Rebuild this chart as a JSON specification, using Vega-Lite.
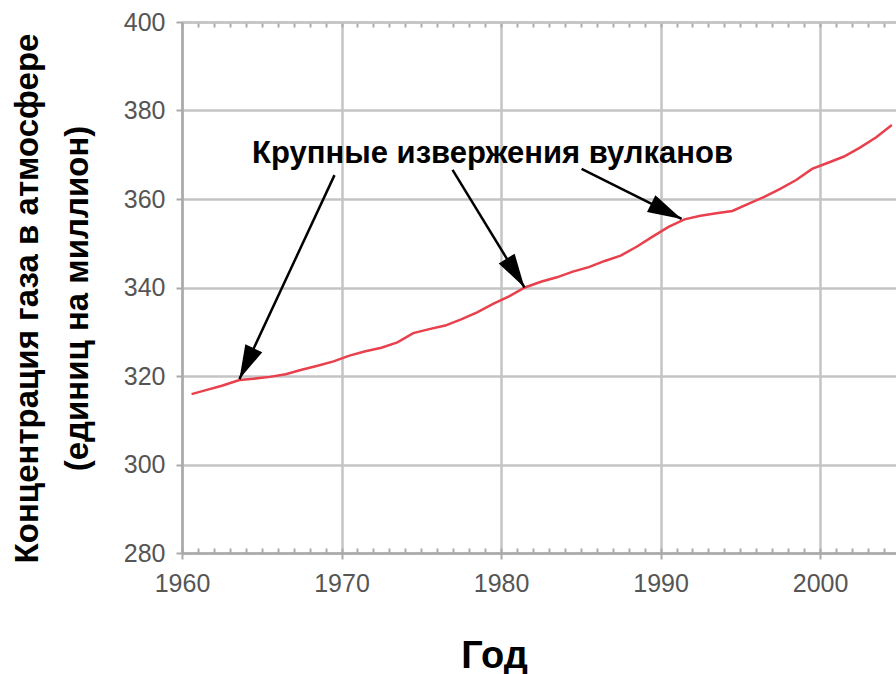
{
  "$schema": "https://vega.github.io/schema/vega-lite/v6.json",
  "width": 714,
  "height": 531,
  "autosize": {"type": "none"},
  "padding": {"left": 182, "top": 22, "right": 0, "bottom": 121},
  "background": "white",
  "config": {"view": {"stroke": null}},
  "datasets": {
    "co2": [
      {"year": 1960.6, "ppm": 315.9},
      {"year": 1961.5, "ppm": 316.8},
      {"year": 1962.5, "ppm": 317.8},
      {"year": 1963.6, "ppm": 319.1},
      {"year": 1964.5, "ppm": 319.4},
      {"year": 1965.5, "ppm": 319.8},
      {"year": 1966.5, "ppm": 320.4},
      {"year": 1967.5, "ppm": 321.4},
      {"year": 1968.5, "ppm": 322.3},
      {"year": 1969.5, "ppm": 323.3},
      {"year": 1970.5, "ppm": 324.6},
      {"year": 1971.5, "ppm": 325.6},
      {"year": 1972.5, "ppm": 326.4},
      {"year": 1973.5, "ppm": 327.6},
      {"year": 1974.5, "ppm": 329.7},
      {"year": 1975.5, "ppm": 330.6},
      {"year": 1976.5, "ppm": 331.4},
      {"year": 1977.5, "ppm": 332.8},
      {"year": 1978.5, "ppm": 334.4},
      {"year": 1979.5, "ppm": 336.3},
      {"year": 1980.5, "ppm": 338.0},
      {"year": 1981.5, "ppm": 340.0},
      {"year": 1982.5, "ppm": 341.3},
      {"year": 1983.5, "ppm": 342.3},
      {"year": 1984.5, "ppm": 343.6},
      {"year": 1985.5, "ppm": 344.6},
      {"year": 1986.5, "ppm": 346.0},
      {"year": 1987.5, "ppm": 347.2},
      {"year": 1988.5, "ppm": 349.2},
      {"year": 1989.5, "ppm": 351.5},
      {"year": 1990.5, "ppm": 353.7},
      {"year": 1991.5, "ppm": 355.4},
      {"year": 1992.5, "ppm": 356.2},
      {"year": 1993.5, "ppm": 356.8},
      {"year": 1994.5, "ppm": 357.3},
      {"year": 1995.5, "ppm": 358.9},
      {"year": 1996.5, "ppm": 360.5},
      {"year": 1997.5, "ppm": 362.3},
      {"year": 1998.5, "ppm": 364.3},
      {"year": 1999.5, "ppm": 366.8},
      {"year": 2000.5, "ppm": 368.2},
      {"year": 2001.5, "ppm": 369.6},
      {"year": 2002.5, "ppm": 371.6},
      {"year": 2003.5, "ppm": 373.9},
      {"year": 2004.5, "ppm": 376.7}
    ],
    "arrows": [
      {"id": "a", "year0": 1969.56, "ppm0": 365.4, "year1": 1963.6, "ppm1": 319.3},
      {"id": "b", "year0": 1976.96, "ppm0": 366.6, "year1": 1981.47, "ppm1": 340.0},
      {"id": "c", "year0": 1985.05, "ppm0": 366.8, "year1": 1991.32, "ppm1": 355.5}
    ],
    "label": [
      {"year": 1979.47, "ppm": 368.1, "text": "Крупные извержения вулканов"}
    ]
  },
  "resolve": {"axis": {"x": "independent"}},
  "layer": [
    {
      "data": {"name": "co2"},
      "mark": {"type": "line", "color": "#e8404c", "strokeWidth": 2.5},
      "encoding": {
        "x": {
          "field": "year", "type": "quantitative",
          "scale": {"domain": [1960, 2004.76], "nice": false, "zero": false},
          "axis": {
            "orient": "bottom",
            "values": [1960,1961,1962,1963,1964,1965,1966,1967,1968,1969,1970,1971,1972,1973,1974,1975,1976,1977,1978,1979,1980,1981,1982,1983,1984,1985,1986,1987,1988,1989,1990,1991,1992,1993,1994,1995,1996,1997,1998,1999,2000,2001,2002,2003,2004],
            "format": "d",
            "labelExpr": "datum.value % 10 === 0 ? datum.label : ''",
            "labelFont": "Liberation Sans", "labelFontSize": 25, "labelColor": "#555",
            "labelPadding": 23, "labelOverlap": false, "labelFlush": false,
            "tickSize": -5,
            "tickColor": "#aaa", "tickWidth": 2,
            "domainColor": "#aaa", "domainWidth": 2.5,
            "grid": true,
            "gridOpacity": {"condition": {"test": "datum.value % 10 === 0", "value": 1}, "value": 0},
            "gridColor": "#c4c4c4", "gridWidth": 2.5,
            "title": "Год",
            "titleFont": "Liberation Sans", "titleFontSize": 38, "titleFontWeight": "bold", "titleColor": "#000",
            "titleX": 312, "titleY": 114, "titleAlign": "center", "titleBaseline": "alphabetic"
          }
        },
        "y": {
          "field": "ppm", "type": "quantitative",
          "scale": {"domain": [280, 400], "nice": false, "zero": false},
          "axis": {
            "orient": "left",
            "values": [280, 300, 320, 340, 360, 380, 400],
            "labelFont": "Liberation Sans", "labelFontSize": 25, "labelColor": "#555",
            "labelPadding": 11,
            "tickSize": 6, "tickColor": "#aaa", "tickWidth": 2,
            "domainColor": "#aaa", "domainWidth": 2.5,
            "grid": true, "gridColor": "#c4c4c4", "gridWidth": 2.5,
            "title": ["Концентрация газа в атмосфере", "(единиц на миллион)"],
            "titleFont": "Liberation Sans", "titleFontSize": 33, "titleFontWeight": "bold", "titleColor": "#000",
            "titleAngle": -90, "titleX": -155, "titleY": 276, "titleAlign": "center", "titleBaseline": "middle", "titleLineHeight": 50
          }
        }
      }
    },
    {
      "data": {"name": "arrows"},
      "mark": {"type": "rule", "color": "#000", "strokeWidth": 2.5},
      "encoding": {
        "x": {
          "field": "year0", "type": "quantitative",
          "axis": {
            "orient": "top",
            "values": [1960,1961,1962,1963,1964,1965,1966,1967,1968,1969,1970,1971,1972,1973,1974,1975,1976,1977,1978,1979,1980,1981,1982,1983,1984,1985,1986,1987,1988,1989,1990,1991,1992,1993,1994,1995,1996,1997,1998,1999,2000,2001,2002,2003,2004],
            "labels": false, "tickSize": -5, "tickColor": "#aaa", "tickWidth": 2,
            "domain": true, "domainColor": "#c4c4c4", "domainWidth": 2.5,
            "grid": false, "title": null
          }
        },
        "y": {"field": "ppm0", "type": "quantitative"},
        "x2": {"field": "year1"},
        "y2": {"field": "ppm1"}
      }
    },
    {
      "data": {"name": "arrows"},
      "transform": [{"filter": "datum.id === 'a'"}],
      "mark": {"type": "point", "shape": "M0,0L0.55,2L-0.55,2Z", "filled": true, "color": "#000", "opacity": 1, "size": 1156, "angle": 205},
      "encoding": {
        "x": {"field": "year1", "type": "quantitative", "axis": null},
        "y": {"field": "ppm1", "type": "quantitative"}
      }
    },
    {
      "data": {"name": "arrows"},
      "transform": [{"filter": "datum.id === 'b'"}],
      "mark": {"type": "point", "shape": "M0,0L0.55,2L-0.55,2Z", "filled": true, "color": "#000", "opacity": 1, "size": 1156, "angle": 148.4},
      "encoding": {
        "x": {"field": "year1", "type": "quantitative", "axis": null},
        "y": {"field": "ppm1", "type": "quantitative"}
      }
    },
    {
      "data": {"name": "arrows"},
      "transform": [{"filter": "datum.id === 'c'"}],
      "mark": {"type": "point", "shape": "M0,0L0.55,2L-0.55,2Z", "filled": true, "color": "#000", "opacity": 1, "size": 1156, "angle": 116.6},
      "encoding": {
        "x": {"field": "year1", "type": "quantitative", "axis": null},
        "y": {"field": "ppm1", "type": "quantitative"}
      }
    },
    {
      "data": {"name": "label"},
      "mark": {"type": "text", "font": "Liberation Sans", "fontSize": 31, "fontWeight": "bold", "color": "#000", "align": "center", "baseline": "alphabetic"},
      "encoding": {
        "x": {
          "field": "year", "type": "quantitative",
          "axis": {
            "orient": "bottom",
            "values": [1960, 1970, 1980, 1990, 2000],
            "labels": false, "domain": false, "grid": false, "title": null,
            "tickSize": 6, "tickColor": "#aaa", "tickWidth": 2
          }
        },
        "y": {"field": "ppm", "type": "quantitative"},
        "text": {"field": "text"}
      }
    }
  ]
}
